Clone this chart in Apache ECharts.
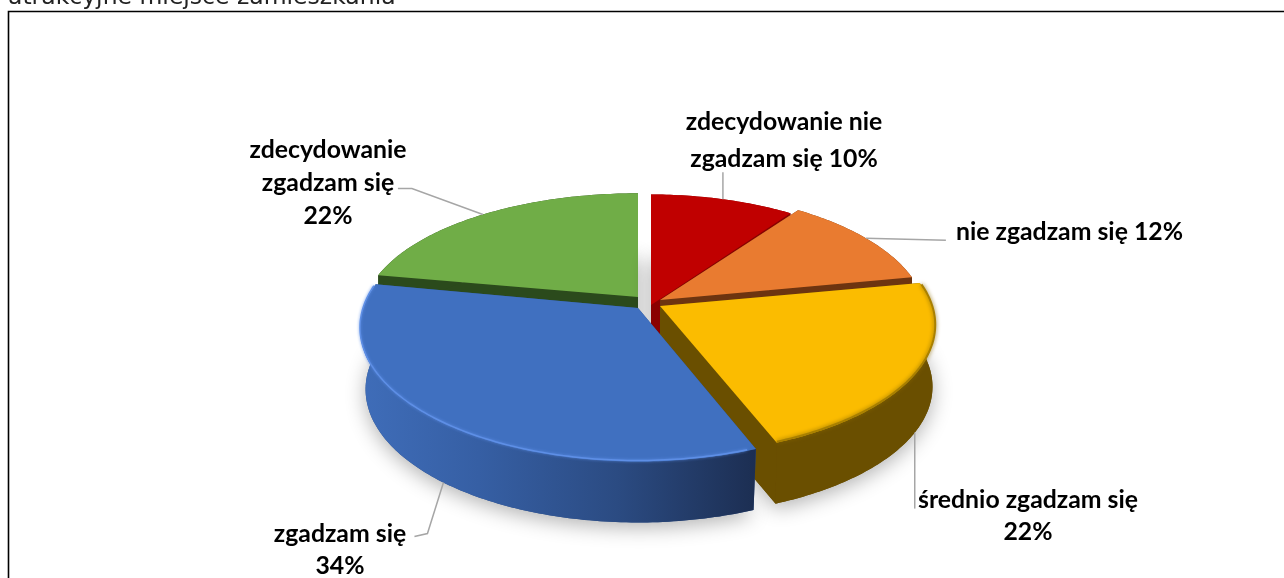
<!DOCTYPE html>
<html><head><meta charset="utf-8">
<style>html,body{margin:0;padding:0;background:#fff}#c{width:1284px;height:578px}</style>
<script src="https://cdn.jsdelivr.net/npm/echarts@6/dist/echarts.min.js"></script>
</head><body><div id="c"></div>
<script>
const categories = ['zdecydowanie nie zgadzam się','nie zgadzam się','średnio zgadzam się','zgadzam się','zdecydowanie zgadzam się'];
const values = [10,12,22,34,22];
const labelLines = [['zdecydowanie nie','zgadzam się {p}'],['nie zgadzam się {p}'],['średnio zgadzam się','{p}'],['zgadzam się','{p}'],['zdecydowanie','zgadzam się','{p}']];
const topColors = ['#c00000','#e97b30','#fbbc00','#4070c0','#70ad47'];
const wallColors = ['#8a0000','#6d3410','#6a4f00','#2e5088','#2b4a1c'];
const drawOrder = [4,0,1,2,3];
// layout (not data)
const RX=272, RY=130, K=0.153, DEPTH=61;
const lowX=[1,1,0.99,0.98,1];
const apex=[[651,305],[660,300],[660,306],[638,308],[638,297]];
const scale=[[0.98,0.98],[0.97,0.96],[1,0.97],[1.01,1],[1,0.92]];
const labelPos=[[784,122,'center',37],[956,232,'left',33],[1028,500,'center',32],[340,534,'center',32],[328,150,'center',33]];
const leaderTail=[[[0,-27]],[[80,2]],[[0,76]],[[-16,51],[-29,54]],[[-71,-26],[-85,-26]]];
const FONT='Lato';
const total=values.reduce((a,b)=>a+b,0);
const starts=[];values.reduce((s,v,i)=>{starts[i]=s;return s+v/total*Math.PI*2;},0);
function proj(i,t,dz){const u=Math.sin(t),v=-Math.cos(t),d=1-K*v,xs=dz?lowX[i]:1;return [apex[i][0]+RX*xs*scale[i][0]*u/d,apex[i][1]+RY*scale[i][1]*v/d+(dz||0)];}
function arc(i,a,b,dz){const n=Math.max(8,Math.ceil((b-a)*60)),p=[];for(let j=0;j<=n;j++)p.push(proj(i,a+(b-a)*j/n,dz));return p;}
function renderItem(params,api){
  const i=api.value(0),v=api.value(1);
  const a=starts[i],b=a+v/total*Math.PI*2;
  const A=apex[i],top=arc(i,a,b,0),low=arc(i,a,b,DEPTH);
  const bodyLow=[[A[0],A[1]+DEPTH],...low];
  const children=[];
  children.push({type:'polygon',shape:{points:bodyLow},style:{fill:wallColors[i],shadowBlur:20,shadowColor:'rgba(0,0,0,0.30)',shadowOffsetY:5}});
  children.push({type:'polygon',shape:{points:[[A[0],A[1]],top[0],low[0],[A[0],A[1]+DEPTH]]},style:{fill:wallColors[i]}});
  children.push({type:'polygon',shape:{points:[[A[0],A[1]],top[top.length-1],low[low.length-1],[A[0],A[1]+DEPTH]]},style:{fill:wallColors[i]}});
  const wallFill=i===3?new echarts.graphic.LinearGradient(0,0,1,0,[{offset:0,color:'#3f6db9'},{offset:0.3,color:'#365fa4'},{offset:0.65,color:'#2b4b82'},{offset:1,color:'#1c2e52'}]):wallColors[i];
  children.push({type:'polygon',shape:{points:[...top,...low.slice().reverse()]},style:{fill:wallFill}});
  children.push({type:'polygon',shape:{points:[[A[0],A[1]],...top]},style:{fill:topColors[i]}});
  if(i===3){
    const rim=arc(i,a+0.03,b-0.02,0).map(p=>[p[0],p[1]-1]);
    children.push({type:'polyline',shape:{points:rim},style:{fill:null,stroke:'#5e8fe6',lineWidth:1.5,shadowBlur:3,shadowColor:'#5e8fe6'}});
  }
  if(i===2){
    const rim=arc(i,a+0.02,b,0).map(p=>[p[0],p[1]-1]);
    children.push({type:'polyline',shape:{points:rim},style:{fill:null,stroke:'#a98000',lineWidth:2,shadowBlur:4,shadowColor:'#8a6800'}});
  }
  return {type:'group',children};
}
function renderLabel(params,api){
  const i=api.value(0),v=api.value(1);
  const a=starts[i],b=a+v/total*Math.PI*2,mid=(a+b)/2;
  const front=Math.cos(mid)<0.0;
  const s=proj(i,mid,front?DEPTH:0);
  const pts=[s,...leaderTail[i].map(o=>[s[0]+o[0],s[1]+o[1]])];
  const children=[{type:'polyline',shape:{points:pts},style:{fill:null,stroke:'#a6a6a6',lineWidth:1.5}}];
  const L=labelPos[i];
  labelLines[i].forEach((t,j)=>{
    children.push({type:'text',x:L[0],y:L[1]+j*L[3],style:{text:t.replace('{p}',v+'%'),font:'bold 24.8px '+FONT,fill:'#000',textAlign:L[2],textVerticalAlign:'middle'}});
  });
  return {type:'group',children};
}
const ordered=drawOrder.map(i=>[i,values[i],categories[i]]);
const chart=echarts.init(document.getElementById('c'),null,{renderer:'canvas'});
chart.setOption({
  animation:false,backgroundColor:'#fff',
  title:{text:'atrakcyjne miejsce zamieszkania',left:8,top:-14,padding:0,textStyle:{fontFamily:'DejaVu Sans',fontWeight:'normal',fontSize:23.5,color:'#222',lineHeight:24}},
  graphic:[{type:'polyline',shape:{points:[[8.5,578],[8.5,11.5],[1284,11.5]]},style:{fill:null,stroke:'#000',lineWidth:1.6},silent:true,z:-1}],
  series:[
    {type:'custom',coordinateSystem:'none',renderItem,data:ordered,silent:true,z:2},
    {type:'custom',coordinateSystem:'none',renderItem:renderLabel,data:ordered,silent:true,z:3}
  ]
});
</script></body></html>
